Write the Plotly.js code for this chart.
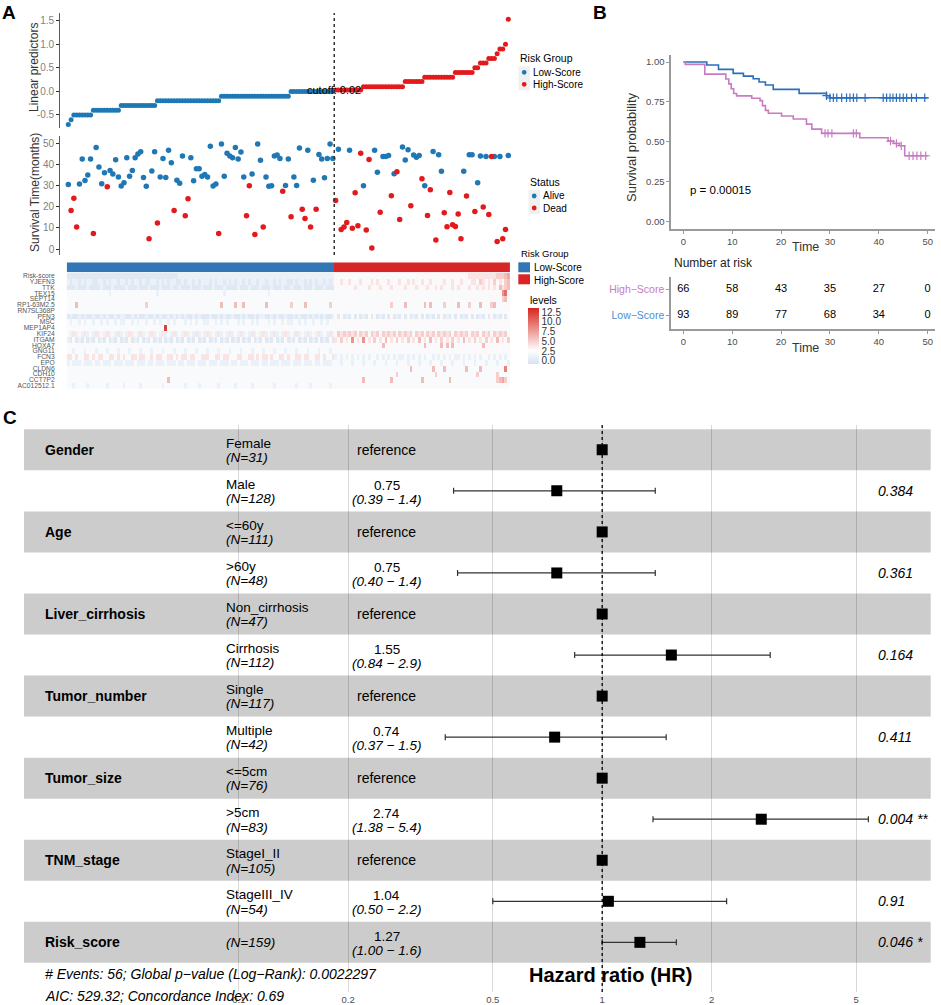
<!DOCTYPE html>
<html><head><meta charset="utf-8">
<script src="https://cdn.plot.ly/plotly-3.0.1.min.js"></script>
<style>html,body{margin:0;padding:0;background:#fff}#chart{width:941px;height:1005px}</style>
</head><body><div id="chart"></div>
<script>
// ---------------- DATA ----------------
const cutoff = 0.02;
const lowScores = [
 -0.70,-0.60,
 -0.50,-0.50,-0.50,-0.50,-0.50,-0.50,-0.50,
 -0.40,-0.40,-0.40,-0.40,-0.40,-0.40,-0.40,-0.40,-0.40,-0.40,
 -0.30,-0.30,-0.30,-0.30,-0.30,-0.30,-0.30,-0.30,-0.30,-0.30,-0.30,-0.30,-0.30,
 -0.20,-0.20,-0.20,-0.20,-0.20,-0.20,-0.20,-0.20,-0.20,-0.20,-0.20,-0.20,-0.20,-0.20,-0.20,-0.20,-0.20,-0.20,-0.20,-0.20,-0.20,-0.20,-0.20,
 -0.10,-0.10,-0.10,-0.10,-0.10,-0.10,-0.10,-0.10,-0.10,-0.10,-0.10,-0.10,-0.10,-0.10,-0.10,-0.10,-0.10,-0.10,-0.10,-0.10,-0.10,-0.10,-0.10,-0.10,-0.10,
 0.00,0.00,0.00,0.00,0.00,0.00,0.00,0.00,0.00,0.00,0.00,0.00,0.00,0.00,0.00,0.00
];
const highScores = [
 0.03,0.03,0.03,0.03,0.03,0.03,0.03,0.03,0.03,0.03,
 0.10,0.10,0.10,0.10,0.10,0.10,0.10,0.10,0.10,0.10,0.10,0.10,0.10,0.10,0.10,
 0.21,0.21,0.21,0.21,0.21,0.21,0.21,
 0.30,0.30,0.30,0.30,0.30,0.30,0.30,0.30,0.30,0.30,0.30,
 0.40,0.40,0.40,0.40,0.40,0.40,0.40,
 0.50,0.50, 0.60,0.60,0.60, 0.70,0.70,0.70, 0.80, 0.90,0.90, 1.00, 1.53
];
const survTime = [
 30.6,18.3,24.1,10.4,30.8,42.6,32.5,35.0,42.6,7.4,
 48.1,38.8,30.9,36.1,29.5,37.2,35.5,42.3,34.1,29.8,
 31.4,43.2,34.5,37.2,43.2,45.0,46.1,33.9,29.7,4.9,
 36.9,46.1,12.3,34.1,42.9,33.9,46.8,40.9,18.3,32.6,
 31.1,44.0,15.8,23.8,43.2,32.3,38.0,38.0,34.5,35.3,
 34.1,48.6,29.8,30.8,7.4,49.7,34.5,45.3,44.0,43.2,
 48.1,42.6,45.9,34.1,15.8,30.0,35.5,6.9,49.7,42.0,
 10.4,34.1,29.7,30.0,44.0,44.5,42.9,27.4,30.1,42.6,
 15.3,34.1,30.1,47.8,18.8,14.5,46.8,10.4,32.6,18.8,
 44.8,42.6,33.8,42.9,49.7,42.9,23.0,47.2,9.3,10.4,
 12.6,46.8,9.9,26.7,11.0,45.3,30.0,9.0,42.4,0.5,
 46.7,36.3,17.4,43.8,43.8,44.3,25.2,35.6,36.6,14.0,
 48.3,42.1,47.0,20.5,44.5,43.5,44.3,33.3,30.0,15.9,
 28.1,46.2,4.3,44.6,36.8,17.2,10.6,26.8,11.5,10.7,
 16.6,4.9,36.8,25.1,44.6,44.6,17.8,31.4,44.0,19.9,
 43.8,16.4,43.8,43.8,3.6,43.8,4.9,9.3,44.3
];
const status = [
 0,1,1,1,0,0,0,0,0,1,
 0,0,0,0,1,0,0,0,0,0,
 0,0,0,0,0,0,0,0,0,1,
 0,0,1,0,0,0,0,0,1,0,
 0,0,1,1,0,0,0,0,0,0,
 0,0,0,0,1,0,0,0,0,0,
 0,0,0,0,1,1,0,1,0,0,
 1,0,0,0,0,0,0,1,0,0,
 1,0,0,0,1,1,0,1,0,1,
 0,0,0,0,0,0,1,0,1,1,
 1,0,1,1,1,1,0,1,1,1,
 0,0,1,0,0,0,1,0,1,1,
 0,0,0,1,0,0,0,1,0,1,
 1,0,1,0,0,1,1,1,1,1,
 1,1,0,1,0,0,1,0,0,1,
 0,1,1,0,1,0,1,1,0
];
const heatRows = ['Risk-score','YJEFN3','TTK','TEX15','SEPT14','RP1-63M2.5','RN7SL368P','PFN3','MSC','MEP1AP4','KIF24','ITGAM','HOXA7','GNG11','FCN3','EPO','CLDN6','CDH10','CCT7P2','AC012512.1'];
// one hex digit per patient (expression level)
const heatLevels = [
 "0000000000 0000000000 0000000000 0000000000 1111111111 1111111111 1111111111 1111111111 1111111111 1111112222 2222222222 2222222222 2222233333 3333333333 3333444444 444455567",
 "1011010110 0110101101 1010110100 1101010110 0101101011 1010110101 0110101101 1011010110 0101101010 1101013243 2432342324 3423243234 2342432423 4232342342 3423244354 243534356",
 "0001000100 0010001000 0100010001 0001000100 1000100010 0010001000 0100010001 0001000100 1000100010 0010002323 3234232342 2343234232 3423243234 2342432342 4323423434 343436456",
 "2222222222 2222212222 2222222222 2212222222 2222222222 2222221222 2222222222 2212222222 2222222222 2222222232 2222232222 2322222223 2222322222 2232222232 2222322232 2232328a3",
 "2222222222 2222222222 2222222222 2222222222 2222222222 2222222222 2222222222 2222222222 2222222222 2222222222 2232222222 2222222322 2223222222 2222222232 2222223222 223222562",
 "2226222222 2222222222 2222222252 2222222222 2222222222 2222262222 6226222222 2622222222 5222262222 2222522222 2222222222 2222225222 2622222262 6222252222 6222522262 225622222",
 "2222222222 2222222222 2223222222 2222222222 2222222232 2222222222 2222232222 2222222222 2222222222 2222222322 2222222223 2223222222 2222223222 2232222223 2222232222 232222322",
 "0100101001 0010100101 1001010010 0101001010 1010010100 0100101001 0010100101 1001010010 0101001010 1010012030 1020301020 3010203010 2030102030 1020301020 3010203010 203010203",
 "2122121221 2212122121 1221212212 2121221212 2212121221 1221212122 2121221212 2212122121 1221212212 2121223232 2323232223 3223232322 2322323232 3232232223 2232323232 323223232",
 "2222222222 2222222222 2222222222 22222c2222 2222222222 2223222222 2222222222 2222222322 2222222222 2222222222 2223222222 2222232222 2222222222 2322222222 2222223222 222222322",
 "3141314131 4131413141 3141314131 4131413141 3141314131 4131413141 3141314131 4131413141 3141314131 4131413545 4545354535 4535454535 4545354535 4535454535 4545354535 453545453",
 "1020102010 2010201020 1020102010 2010201020 1020102010 2010201020 1020102010 2010201020 1020102010 2010204252 4282428242 5242624252 4252426242 6242524252 4262425242 524262425",
 "2222322222 2222222232 2232222222 2222222322 2322222222 2222232222 2222222223 2223222222 2222223222 2222222232 2232222222 2226222222 2222222262 2222626262 2222222226 232222322",
 "2212221222 1222122212 2212221222 1222122212 2212221222 1222122212 2212221222 1222122212 2212221222 1222122323 2323232323 3232323232 2323232323 3232323232 2323232323 323232323",
 "4424224424 2442244242 4224424422 4244224424 2442442244 4224424422 2442244242 4424224424 2244244224 4242241212 1212121212 2121212121 1212121212 2121212121 1212121212 212121212",
 "1211121112 1121112111 2111211121 1211121112 1121112111 2111211121 1211121112 1121112111 2111211121 1211122212 2212221222 1222122212 2212221222 1222122212 2212221222 122212221",
 "2222222222 2222222222 2222222222 2222222222 2222222222 2222222222 2222222222 2222222222 2222222222 2222222222 2222222222 2222222222 2226222222 2622262222 2226222262 222222292",
 "2222222222 2232222222 2222222222 2222223222 2222222222 2222222222 2223222222 2222222222 2222222322 2222222222 2222322222 2222222252 2222222222 2252222222 2222222522 222252222",
 "2222222222 2222222222 2232222222 2222226222 2222222222 2222232222 2222222222 2223222222 2222222222 2222222222 2222226222 2222226222 2222222622 2222222622 2232222222 222256752",
 "2212222122 2222122222 1222221222 2222122222 2212222122 2222122222 1222221222 2222122222 2212222122 2222123222 2322232223 2223222322 3222322232 2232223222 2322232223 222322232"
];
// Kaplan-Meier
const kmLowT  = [0,4.8,7.2,10.2,12.3,14.3,15.5,16.8,18.4,23.7,29.3,30.0,50];
const kmLowS  = [1,0.981,0.954,0.929,0.912,0.895,0.875,0.856,0.829,0.804,0.789,0.776,0.776];
const kmHighT = [0,0.4,4.4,8.7,9.3,9.8,10.3,10.9,14.0,15.7,16.2,16.8,17.4,20.1,22.5,25.2,26.3,28.3,36.1,41.9,43.0,44.2,45.3,50];
const kmHighS = [1,0.985,0.924,0.894,0.863,0.833,0.803,0.788,0.773,0.758,0.727,0.697,0.679,0.662,0.643,0.611,0.580,0.553,0.526,0.505,0.490,0.476,0.413,0.413];
const censLowT  = [29.3,30.0,30.7,31.4,32.4,33.4,34.1,34.8,35.5,37.2,40.9,41.6,42.3,42.9,43.6,44.3,45.0,45.7,46.7,47.7,49.4];
const censLowS  = [0.789,0.776,0.776,0.776,0.776,0.776,0.776,0.776,0.776,0.776,0.776,0.776,0.776,0.776,0.776,0.776,0.776,0.776,0.776,0.776,0.776];
const censHighT = [29.0,29.6,30.4,34.8,35.4,42.4,43.6,44.6,46.2,47.0,47.8,48.6,49.6];
const censHighS = [0.553,0.553,0.553,0.553,0.553,0.505,0.490,0.476,0.413,0.413,0.413,0.413,0.413];
const riskTimes = [0,10,20,30,40,50];
const atRiskHigh = [66,58,43,35,27,0];
const atRiskLow  = [93,89,77,68,34,0];
// Forest plot
const fVars   = ['Gender','','Age','','Liver_cirrhosis','','Tumor_number','','Tumor_size','','TNM_stage','','Risk_score'];
const fLevels = ['Female','Male','<=60y','>60y','Non_cirrhosis','Cirrhosis','Single','Multiple','<=5cm','>5cm','StageI_II','StageIII_IV',''];
const fN      = [31,128,111,48,47,112,117,42,76,83,105,54,159];
const fHR     = [1,0.75,1,0.75,1,1.55,1,0.74,1,2.74,1,1.04,1.27];
const fLo     = [null,0.39,null,0.40,null,0.84,null,0.37,null,1.38,null,0.50,1.00];
const fHi     = [null,1.4,null,1.4,null,2.9,null,1.5,null,5.4,null,2.2,1.6];
const fP      = ['','0.384','','0.361','','0.164','','0.411','','0.004 **','','0.91','0.046 *'];
const forestTicks = [0.1,0.2,0.5,1,2,5];

// ---------------- HELPERS ----------------
const W = 941, H = 1005;
const fx = p => p / W;
const fy = p => 1 - p / H;
const FONT = 'Liberation Sans, Arial, Helvetica, sans-serif';
const BLUE = '#1f78b4', RED = '#e31a1c';
const KMBLUE = '#2a6fbd', KMPINK = '#c77cc2';

const riskScore = lowScores.concat(highScores);
const idx = riskScore.map((_, i) => i + 1);
const isHigh = riskScore.map(v => v > cutoff);
const heatZ = heatLevels.map(s => s.replace(/ /g, '').split('').map(c => parseInt(c, 16)));

const pick = (arr, mask) => arr.filter((_, i) => mask[i]);

const traces = [];
// A: risk score
traces.push({x: pick(idx, isHigh.map(b => !b)), y: pick(riskScore, isHigh.map(b => !b)), xaxis: 'x', yaxis: 'y', type: 'scatter', mode: 'markers', marker: {size: 5, color: BLUE}});
traces.push({x: pick(idx, isHigh), y: pick(riskScore, isHigh), xaxis: 'x', yaxis: 'y', type: 'scatter', mode: 'markers', marker: {size: 5, color: RED}});
// A: survival scatter
const dead = status.map(s => s === 1), alive = status.map(s => s === 0);
traces.push({x: pick(idx, alive), y: pick(survTime, alive), xaxis: 'x2', yaxis: 'y2', type: 'scatter', mode: 'markers', marker: {size: 5.5, color: BLUE}});
traces.push({x: pick(idx, dead), y: pick(survTime, dead), xaxis: 'x2', yaxis: 'y2', type: 'scatter', mode: 'markers', marker: {size: 5.5, color: RED}});
// A: risk group bar
traces.push({type: 'heatmap', x: idx, y: ['Risk Group'], z: [isHigh.map(b => b ? 1 : 0)], xaxis: 'x3', yaxis: 'y3',
  colorscale: [[0, '#3376b5'], [0.5, '#3376b5'], [0.5, '#d82526'], [1, '#d82526']], zmin: 0, zmax: 1, showscale: false});
// A: expression heatmap
traces.push({type: 'heatmap', x: idx, y: heatRows, z: heatZ, xaxis: 'x4', yaxis: 'y4',
  colorscale: [[0, '#d9e3f0'], [0.06, '#dfe8f3'], [0.24, '#ffffff'], [1, '#d7261e']], zmin: -0.85, zmax: 13.5,
  colorbar: {x: fx(528.3), xanchor: 'left', y: fy(308.3), yanchor: 'top', len: 56 / H, lenmode: 'fraction', thickness: 11,
    xpad: 0, ypad: 0, outlinewidth: 0, ticks: '', tickvals: [0, 2.5, 5, 7.5, 10, 12.5], ticktext: ['0.0', '2.5', '5.0', '7.5', '10.0', '12.5'],
    tickfont: {size: 10, color: '#333', family: FONT}}});
// B: KM curves
traces.push({x: kmLowT, y: kmLowS, xaxis: 'x5', yaxis: 'y5', type: 'scatter', mode: 'lines', line: {shape: 'hv', color: KMBLUE, width: 1.6}});
traces.push({x: kmHighT, y: kmHighS, xaxis: 'x5', yaxis: 'y5', type: 'scatter', mode: 'lines', line: {shape: 'hv', color: KMPINK, width: 1.6}});
traces.push({x: censLowT, y: censLowS, xaxis: 'x5', yaxis: 'y5', type: 'scatter', mode: 'markers', marker: {symbol: 'cross-thin', size: 6, line: {width: 1.2, color: KMBLUE}}});
traces.push({x: censHighT, y: censHighS, xaxis: 'x5', yaxis: 'y5', type: 'scatter', mode: 'markers', marker: {symbol: 'cross-thin', size: 6, line: {width: 1.2, color: KMPINK}}});
// B: risk table
traces.push({x: riskTimes, y: riskTimes.map(() => 2), text: atRiskHigh.map(String), xaxis: 'x6', yaxis: 'y6', type: 'scatter', mode: 'text', textfont: {size: 11, color: '#000', family: FONT}});
traces.push({x: riskTimes, y: riskTimes.map(() => 1), text: atRiskLow.map(String), xaxis: 'x6', yaxis: 'y6', type: 'scatter', mode: 'text', textfont: {size: 11, color: '#000', family: FONT}});
// C: forest
const rows = fHR.map((_, i) => i + 1);
const isRef = fLo.map(v => v === null);
traces.push({x: pick(fHR, isRef), y: pick(rows, isRef), xaxis: 'x7', yaxis: 'y7', type: 'scatter', mode: 'markers',
  marker: {symbol: 'square', size: 11, color: '#000'}});
const hasCI = isRef.map(b => !b);
traces.push({x: pick(fHR, hasCI), y: pick(rows, hasCI), xaxis: 'x7', yaxis: 'y7', type: 'scatter', mode: 'markers',
  marker: {symbol: 'square', size: 11, color: '#000'},
  error_x: {type: 'data', symmetric: false, array: pick(fHi.map((h, i) => h === null ? 0 : h - fHR[i]), hasCI),
    arrayminus: pick(fLo.map((l, i) => l === null ? 0 : fHR[i] - l), hasCI), color: '#333', thickness: 1.2, width: 3}});

// ---------------- LAYOUT ----------------
const aX = {domain: [fx(60), fx(516)], range: [-1.98, 161.77], showgrid: false, zeroline: false, showticklabels: false, showline: false, ticks: ''};
const shapes = [], ann = [];
const txt = (x, y, text, o = {}) => ann.push(Object.assign({x: x, y: y, xref: 'paper', yref: 'paper', text: text, showarrow: false,
  font: {family: FONT, size: o.size || 11, color: o.color || '#000'}, xanchor: o.xa || 'left', yanchor: 'middle'}, o.extra || {}));

// panel letters
txt(fx(9), fy(12), '<b>A</b>', {size: 19, xa: 'center'});
txt(fx(600), fy(12), '<b>B</b>', {size: 19, xa: 'center'});
txt(fx(10), fy(418), '<b>C</b>', {size: 19, xa: 'center'});

// A axis titles
txt(fx(34), fy(68), 'Linear predictors', {size: 12, color: '#333', xa: 'center', extra: {textangle: -90}});
txt(fx(35), fy(193), 'Survival Time(months)', {size: 12, color: '#333', xa: 'center', extra: {textangle: -90}});
// cutoff line + label
shapes.push({type: 'line', xref: 'x', x0: 96.5, x1: 96.5, yref: 'paper', y0: fy(255), y1: fy(13), line: {color: '#333', width: 1.5, dash: 'dot'}});
ann.push({x: 96.5, y: cutoff, xref: 'x', yref: 'y', text: 'cutoff: ' + cutoff.toFixed(2), showarrow: false, font: {family: FONT, size: 11, color: '#000'}, xanchor: 'center', yanchor: 'middle'});

// A legends (manual)
const key = (x0, y0, w, h) => shapes.push({type: 'rect', xref: 'paper', yref: 'paper', x0: fx(x0), x1: fx(x0 + w), y0: fy(y0 + h), y1: fy(y0), fillcolor: '#f0f0f0', line: {width: 0}, layer: 'below'});
const dot = (cx, cy, r, c) => shapes.push({type: 'circle', xref: 'paper', yref: 'paper', x0: fx(cx - r), x1: fx(cx + r), y0: fy(cy + r), y1: fy(cy - r), fillcolor: c, line: {width: 0}});
txt(fx(518), fy(58), 'Risk Group', {size: 10.5});
key(518.5, 66.3, 11.5, 24); dot(524.2, 72.3, 2.4, BLUE); dot(524.2, 84.3, 2.4, RED);
txt(fx(531), fy(72.3), 'Low-Score', {size: 10});
txt(fx(531), fy(84.3), 'High-Score', {size: 10});
txt(fx(528), fy(182.3), 'Status', {size: 10.5});
key(528.5, 190, 11.5, 24); dot(534.2, 196, 2.4, BLUE); dot(534.2, 208, 2.4, RED);
txt(fx(541), fy(196), 'Alive', {size: 10});
txt(fx(541), fy(208), 'Dead', {size: 10});
txt(fx(519), fy(254), 'Risk Group', {size: 9.5});
shapes.push({type: 'rect', xref: 'paper', yref: 'paper', x0: fx(518.3), x1: fx(530), y0: fy(272.3), y1: fy(262.3), fillcolor: '#3376b5', line: {width: 0}});
shapes.push({type: 'rect', xref: 'paper', yref: 'paper', x0: fx(518.3), x1: fx(530), y0: fy(284.3), y1: fy(274.3), fillcolor: '#d82526', line: {width: 0}});
txt(fx(532), fy(268), 'Low-Score', {size: 10});
txt(fx(532), fy(280), 'High-Score', {size: 10});
txt(fx(528), fy(300), 'levels', {size: 10.5});

// B texts
txt(fx(631), fy(147), 'Survival probability', {size: 13, color: '#333', xa: 'center', extra: {textangle: -90}});
txt(fx(805), fy(247.5), 'Time', {size: 12.5, color: '#333', xa: 'center'});
txt(fx(688), fy(190), 'p = 0.00015', {size: 11.5});
txt(fx(671.5), fy(263), 'Number at risk', {size: 12, color: '#222'});
txt(fx(805), fy(348), 'Time', {size: 12.5, color: '#333', xa: 'center'});

// C: bands, dotted line, texts
rows.forEach(r => { if (r % 2 === 1) shapes.push({type: 'rect', xref: 'x7 domain', x0: 0, x1: 1, yref: 'y7', y0: r - 0.5, y1: r + 0.5, fillcolor: '#cccccc', line: {width: 0}, layer: 'below'}); });
shapes.push({type: 'line', xref: 'x7', x0: 1, x1: 1, yref: 'y7 domain', y0: 0, y1: 1, line: {color: '#000', width: 1.3, dash: 'dot'}});
const ftxt = (px, y, text, o = {}) => ann.push({x: fx(px), y: y, xref: 'paper', yref: 'y7', text: text, showarrow: false,
  font: {family: FONT, size: o.size || 14, color: '#000'}, xanchor: o.xa || 'left', yanchor: 'middle'});
rows.forEach((r, i) => {
  if (fVars[i]) ftxt(42.7, r, '<b>' + fVars[i] + '</b>');
  if (fLevels[i]) {
    ftxt(223.5, r - 0.16, fLevels[i], {size: 13.5});
    ftxt(223.5, r + 0.19, '<i>(N=' + fN[i] + ')</i>', {size: 13.5});
  } else {
    ftxt(223.5, r, '<i>(N=' + fN[i] + ')</i>', {size: 13.5});
  }
  if (fLo[i] === null) {
    ftxt(386.7, r, 'reference', {xa: 'center'});
  } else {
    ftxt(386.7, r - 0.14, fHR[i].toFixed(2), {xa: 'center', size: 13.5});
    ftxt(386.7, r + 0.2, '<i>(' + fLo[i].toFixed(2) + ' \u2212 ' + fHi[i].toFixed(1) + ')</i>', {xa: 'center', size: 13.5});
  }
  if (fP[i]) ftxt(876, r, '<i>' + fP[i] + '</i>');
});
txt(fx(42.7), fy(973.5), '<i># Events: 56; Global p\u2212value (Log\u2212Rank): 0.0022297</i>', {size: 14});
txt(fx(42.7), fy(996), '<i>AIC: 529.32; Concordance Index: 0.69</i>', {size: 14});
txt(fx(610), fy(975), '<b>Hazard ratio (HR)</b>', {size: 20, xa: 'center'});

const gy = {showgrid: false, zeroline: false};
const layout = {
  width: W, height: H, margin: {l: 0, r: 0, t: 0, b: 0}, paper_bgcolor: '#fff', plot_bgcolor: 'rgba(0,0,0,0)',
  showlegend: false, hovermode: false, font: {family: FONT},
  xaxis: Object.assign({}, aX, {anchor: 'y'}),
  yaxis: Object.assign({}, gy, {domain: [fy(128), fy(13)], range: [-0.776, 1.663], anchor: 'x', showline: true, linecolor: '#333', linewidth: 0.8,
    ticks: 'outside', ticklen: 3, tickcolor: '#333', tickvals: [-0.5, 0, 0.5, 1, 1.5], ticktext: ['-0.5', '0.0', '0.5', '1.0', '1.5'],
    tickfont: {size: 10, color: '#7f7f7f'}}),
  xaxis2: Object.assign({}, aX, {anchor: 'y2'}),
  yaxis2: Object.assign({}, gy, {domain: [fy(255), fy(136)], range: [-2.8, 53.5], anchor: 'x2', showline: true, linecolor: '#333', linewidth: 0.8,
    ticks: 'outside', ticklen: 3, tickcolor: '#333', tickvals: [0, 10, 20, 30, 40, 50], tickfont: {size: 10, color: '#7f7f7f'}}),
  xaxis3: Object.assign({}, aX, {anchor: 'y3'}),
  yaxis3: Object.assign({}, gy, {domain: [fy(272.3), fy(262.3)], anchor: 'x3', showticklabels: false, ticks: ''}),
  xaxis4: Object.assign({}, aX, {anchor: 'y4'}),
  yaxis4: Object.assign({}, gy, {domain: [fy(388.5), fy(273)], anchor: 'x4', autorange: 'reversed', type: 'category',
    tickmode: 'array', tickvals: heatRows, ticktext: heatRows,
    ticks: 'outside', ticklen: 3, tickcolor: 'rgba(0,0,0,0)', tickfont: {size: 6.7, color: '#555'}}),
  xaxis5: Object.assign({}, gy, {domain: [fx(671), fx(935)], range: [-2.52, 51.5], anchor: 'y5', showline: true, linecolor: '#9a9a9a', linewidth: 1.6,
    ticks: 'outside', ticklen: 3, tickcolor: '#9a9a9a', tickvals: riskTimes, tickfont: {size: 9.5, color: '#4d4d4d'}}),
  yaxis5: Object.assign({}, gy, {domain: [fy(229.3), fy(55)], range: [-0.0475, 1.044], anchor: 'x5', showline: true, linecolor: '#9a9a9a', linewidth: 1.6,
    ticks: 'outside', ticklen: 3, tickcolor: '#9a9a9a', tickvals: [0, 0.25, 0.5, 0.75, 1], ticktext: ['0.00', '0.25', '0.50', '0.75', '1.00'],
    tickfont: {size: 9.5, color: '#4d4d4d'}}),
  xaxis6: Object.assign({}, gy, {domain: [fx(671), fx(935)], range: [-2.52, 51.5], anchor: 'y6', showline: true, linecolor: '#9a9a9a', linewidth: 1.6,
    ticks: 'outside', ticklen: 3, tickcolor: '#9a9a9a', tickvals: riskTimes, tickfont: {size: 9.5, color: '#4d4d4d'}}),
  yaxis6: Object.assign({}, gy, {domain: [fy(329), fy(277)], range: [0.455, 2.48], anchor: 'x6', showline: true, linecolor: '#9a9a9a', linewidth: 1.6,
    ticks: 'outside', ticklen: 3, tickcolor: '#9a9a9a', tickvals: [2, 1],
    ticktext: ['<span style="color:' + KMPINK + '">High\u2212Score</span>', '<span style="color:#4a8fd3">Low\u2212Score</span>'],
    tickfont: {size: 10.5, color: '#4a8fd3'}}),
  xaxis7: {type: 'log', domain: [fx(24), fx(930.7)], range: [-1.591, 0.904], anchor: 'y7', showgrid: true, gridcolor: 'rgba(0,0,0,0.15)', gridwidth: 1,
    zeroline: false, showline: false, ticks: '', tickvals: forestTicks, ticktext: forestTicks.map(String), tickfont: {size: 9.5, color: '#4d4d4d'}},
  yaxis7: Object.assign({}, gy, {domain: [fy(992), fy(425)], range: [14.21, 0.395], anchor: 'x7', showticklabels: false, ticks: ''}),
  shapes: shapes, annotations: ann
};
Plotly.newPlot('chart', traces, layout, {displayModeBar: false, staticPlot: true});
</script></body></html>
